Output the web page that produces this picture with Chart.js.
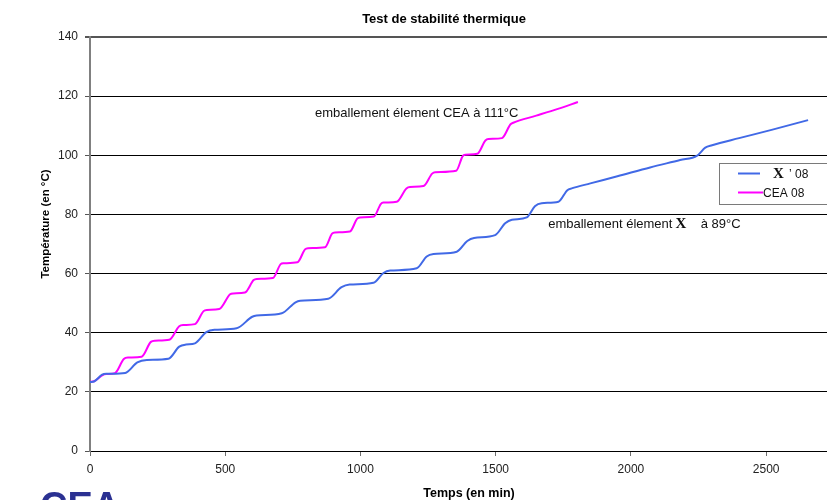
<!DOCTYPE html>
<html>
<head>
<meta charset="utf-8">
<script src="https://cdn.jsdelivr.net/npm/chart.js@4.4.1/dist/chart.umd.min.js"></script>
<style>
html,body{margin:0;padding:0;background:#fff;}
#wrap{position:relative;width:827px;height:500px;overflow:hidden;}
canvas{display:block;}
</style>
</head>
<body>
<div id="wrap"><canvas id="c" width="827" height="500"></canvas></div>
<script>
// ---- data ----
const chartTitle = "Test de stabilité thermique";
const xAxisTitle = "Temps (en min)";
const yAxisTitle = "Température (en °C)";
const xTicks = [0, 500, 1000, 1500, 2000, 2500];
const yTicks = [0, 20, 40, 60, 80, 100, 120, 140];

const seriesXLabel = "X";       // redacted name (bold serif in the reference)
const seriesXSuffix = "’ 08";
const seriesCEALabel = "CEA 08";

const blueTime = [0, 15, 45, 60, 130, 175, 210, 290, 330, 355, 388, 430, 460, 542, 600, 616, 709, 760, 777, 881, 930, 960, 1048, 1085, 1110, 1208, 1245, 1270, 1356, 1395, 1420, 1498, 1535, 1560, 1615, 1645, 1670, 1732, 1765, 1781, 1850, 1950, 2071, 2182, 2245, 2275, 2300, 2400, 2520, 2655];
const blueTemp = [23.3, 23.5, 25.8, 26.1, 26.4, 30.0, 30.8, 31.2, 35.3, 36.0, 36.4, 40.2, 41.0, 41.5, 45.4, 45.8, 46.6, 50.3, 50.8, 51.5, 55.4, 56.3, 56.9, 60.2, 61.0, 61.8, 65.8, 66.6, 67.4, 71.0, 72.0, 73.0, 77.0, 78.2, 79.0, 82.8, 83.8, 84.3, 88.2, 88.8, 90.5, 92.9, 95.9, 98.4, 99.9, 102.6, 103.4, 105.8, 108.6, 111.9];

const ceaTime = [0, 15, 45, 60, 92, 125, 140, 191, 225, 240, 293, 330, 345, 388, 420, 432, 478, 518, 530, 573, 605, 616, 676, 705, 715, 767, 795, 806, 869, 895, 906, 961, 988, 998, 1050, 1075, 1085, 1134, 1170, 1183, 1233, 1265, 1276, 1354, 1378, 1387, 1432, 1462, 1473, 1523, 1555, 1565, 1650, 1730, 1804];
const ceaTemp = [23.4, 23.6, 25.6, 26.0, 26.3, 31.1, 31.6, 31.9, 36.9, 37.3, 37.6, 42.2, 42.6, 42.9, 47.3, 47.7, 48.0, 53.0, 53.3, 53.6, 57.8, 58.2, 58.5, 63.2, 63.5, 63.8, 68.2, 68.6, 68.9, 73.5, 73.9, 74.2, 78.6, 79.0, 79.3, 83.5, 84.0, 84.3, 88.8, 89.3, 89.6, 93.8, 94.3, 94.8, 99.7, 100.2, 100.5, 105.0, 105.5, 105.8, 110.5, 111.0, 113.4, 115.7, 118.0];

const annotCEA = "emballement élement CEA à 111°C";
const annotXPre = "emballement élement";
const annotXPost = "à 89°C";

// ---- build ----
const BLUE = "#4169e6";
const MAGENTA = "#ff00ff";
const SANS = "'Liberation Sans', Arial, sans-serif";
const SERIF = "'Liberation Serif', 'Times New Roman', serif";

const toPts = (xs, ys) => xs.map((x, i) => ({x: x, y: ys[i]}));

const decor = {
  id: 'decor',
  afterDraw(chart) {
    const ctx = chart.ctx;
    const xs = chart.scales.x, ys = chart.scales.y;
    ctx.save();
    ctx.fillStyle = "#000";
    ctx.textBaseline = "alphabetic";
    // chart title
    ctx.font = "bold 13px " + SANS;
    ctx.textAlign = "center";
    ctx.fillText(chartTitle, 444, 23);
    // x axis title
    ctx.font = "bold 12.5px " + SANS;
    ctx.fillText(xAxisTitle, 469, 497);
    // y axis title
    ctx.save();
    ctx.translate(49, 224);
    ctx.rotate(-Math.PI / 2);
    ctx.font = "bold 11.5px " + SANS;
    ctx.fillText(yAxisTitle, 0, 0);
    ctx.restore();

    // annotations
    ctx.textAlign = "left";
    ctx.font = "13px " + SANS;
    ctx.fillStyle = "#111";
    ctx.fillText(annotCEA, xs.getPixelForValue(832), ys.getPixelForValue(113.0));
    const ax = xs.getPixelForValue(1694), ay = ys.getPixelForValue(75.5);
    ctx.fillText(annotXPre, ax, ay);
    ctx.font = "bold 15px " + SERIF;
    ctx.fillText(seriesXLabel, xs.getPixelForValue(2165), ay);
    ctx.font = "13px " + SANS;
    ctx.fillText(annotXPost, xs.getPixelForValue(2258), ay);

    // legend box
    ctx.fillStyle = "#fff";
    ctx.fillRect(719.5, 163.5, 120, 41);
    ctx.strokeStyle = "#7a7a7a";
    ctx.lineWidth = 1;
    ctx.strokeRect(719.5, 163.5, 120, 41);
    ctx.lineWidth = 2;
    ctx.strokeStyle = BLUE;
    ctx.beginPath(); ctx.moveTo(738, 173.5); ctx.lineTo(760, 173.5); ctx.stroke();
    ctx.strokeStyle = MAGENTA;
    ctx.beginPath(); ctx.moveTo(738, 192.5); ctx.lineTo(763, 192.5); ctx.stroke();
    ctx.fillStyle = "#111";
    ctx.font = "bold 15px " + SERIF;
    ctx.fillText(seriesXLabel, 773, 178);
    ctx.font = "12px " + SANS;
    ctx.fillText(seriesXSuffix, 789, 178);
    ctx.fillText(seriesCEALabel, 763, 197);

    // CEA logo at the bottom-left
    ctx.fillStyle = "#2b3192";
    ctx.font = "bold 38px " + SANS;
    ctx.fillText("CEA", 40, 519);
    ctx.restore();
  }
};

new Chart(document.getElementById('c'), {
  type: 'line',
  data: {
    datasets: [
      {label: seriesXLabel + " " + seriesXSuffix, data: toPts(blueTime, blueTemp), borderColor: BLUE, backgroundColor: BLUE,
       borderWidth: 2, pointRadius: 0, cubicInterpolationMode: 'monotone', fill: false},
      {label: seriesCEALabel, data: toPts(ceaTime, ceaTemp), borderColor: MAGENTA, backgroundColor: MAGENTA,
       borderWidth: 2, pointRadius: 0, cubicInterpolationMode: 'monotone', fill: false}
    ]
  },
  options: {
    responsive: false,
    animation: false,
    devicePixelRatio: 1,
    layout: {padding: {top: 37, left: 0, right: 0, bottom: 0}},
    plugins: {legend: {display: false}, title: {display: false}, tooltip: {enabled: false}},
    scales: {
      x: {
        type: 'linear', min: 0, max: 2725,
        afterFit(s) { s.height = 49; },
        afterBuildTicks(s) { s.ticks = xTicks.map(v => ({value: v})); },
        grid: {display: true, drawOnChartArea: false, drawTicks: true, tickLength: 5, tickColor: "#6e6e6e", lineWidth: 1},
        border: {display: true, color: "#000", width: 1},
        ticks: {font: {family: SANS, size: 12}, color: "#222", padding: 6, maxRotation: 0, callback: v => String(v)}
      },
      y: {
        type: 'linear', min: 0, max: 140,
        afterFit(s) { s.width = 90; },
        afterBuildTicks(s) { s.ticks = yTicks.map(v => ({value: v})); },
        grid: {
          display: true, drawTicks: true, tickLength: 5,
          color: ctx => (ctx.tick && ctx.tick.value === 140) ? "#555" : "#000",
          lineWidth: ctx => (ctx.tick && ctx.tick.value === 140) ? 2 : 1,
          tickColor: "#555"
        },
        border: {display: true, color: "#808080", width: 2},
        ticks: {font: {family: SANS, size: 12}, color: "#222", padding: 7, callback: v => String(v)}
      }
    }
  },
  plugins: [decor]
});
</script>
</body>
</html>
